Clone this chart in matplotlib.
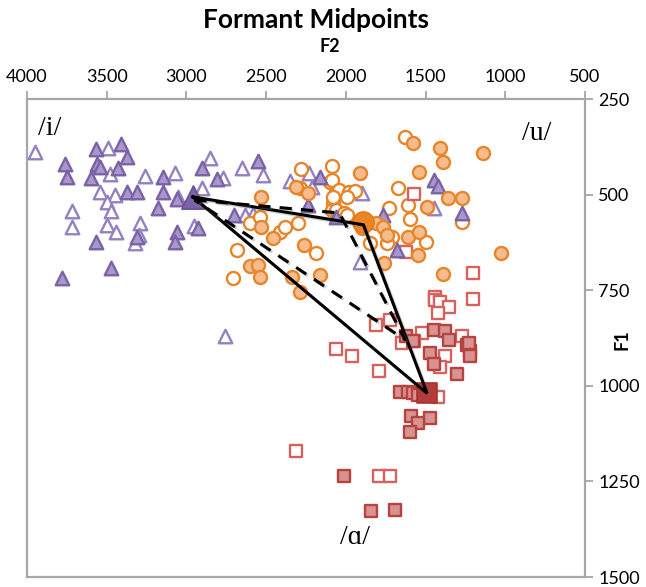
import matplotlib
matplotlib.use("Agg")
import matplotlib.pyplot as plt
import matplotlib.patheffects as pe

# ---- data (F2, F1 in Hz) ----
tri_filled_f2 = [3570, 3410, 3370, 3760, 3750, 3560, 3540, 3430, 3600, 3370, 2900, 3150, 2810, 3310, 3150, 3060, 3180, 3310, 3060, 3070, 2930, 3570, 3470, 3780, 2700, 2550, 2160, 2240, 1770, 1680, 1450, 1420, 1270, 2060]
tri_filled_f1 = [381, 367, 401, 420, 454, 420, 427, 430, 456, 493, 430, 454, 459, 493, 493, 511, 534, 610, 597, 623, 587, 623, 691, 717, 553, 411, 454, 527, 553, 644, 461, 477, 548, 558]

tri_open_f2 = [3950, 3490, 3480, 3540, 3450, 3500, 3470, 3720, 3720, 3500, 3440, 2850, 3260, 3070, 2770, 2900, 3050, 3290, 3300, 3320, 2950, 2650, 2520, 2350, 2230, 2210, 2630, 2580, 1900, 1450, 1910, 2760]
tri_open_f1 = [388, 378, 446, 493, 501, 519, 542, 542, 584, 579, 597, 404, 451, 443, 456, 482, 506, 574, 605, 626, 581, 430, 448, 464, 443, 480, 553, 550, 495, 534, 675, 869]

circ_filled_f2 = [2530, 2310, 2240, 2530, 2460, 2260, 2600, 2550, 2540, 2340, 2160, 2290, 1580, 1910, 1540, 1490, 1810, 1770, 1740, 1610, 1540, 1760, 1410, 1390, 1140, 1360, 1270, 1030, 1390, 1550]
circ_filled_f1 = [506, 480, 495, 584, 613, 631, 688, 683, 715, 715, 709, 756, 365, 443, 441, 532, 574, 584, 605, 610, 597, 678, 378, 414, 391, 508, 508, 652, 707, 657]

circ_open_f2 = [2280, 2090, 2100, 2290, 2060, 2080, 2090, 2600, 2540, 2410, 2380, 2300, 2190, 2680, 2710, 1630, 2090, 1670, 2040, 1980, 1940, 2080, 1990, 1610, 2060, 2010, 1990, 1730, 1600, 1710, 1500, 1850, 1740, 1900, 1270]
circ_open_f1 = [433, 425, 467, 482, 493, 521, 540, 574, 558, 597, 584, 574, 652, 644, 717, 349, 461, 482, 488, 493, 490, 506, 506, 527, 540, 548, 553, 534, 563, 610, 623, 626, 626, 587, 571]

sq_filled_f2 = [1450, 1380, 1350, 1620, 1580, 1240, 1220, 1220, 1470, 1450, 1300, 1660, 1610, 1580, 1550, 1590, 1470, 1550, 1600, 2010, 1840, 1690, 1230]
sq_filled_f1 = [853, 858, 879, 871, 884, 892, 910, 923, 913, 944, 968, 1017, 1017, 1020, 1023, 1080, 1085, 1098, 1122, 1237, 1328, 1325, 887]

sq_open_f2 = [1570, 1620, 1200, 1200, 1440, 1440, 1410, 1350, 1420, 1810, 1720, 1520, 1650, 1570, 1270, 1380, 1410, 2060, 1960, 1790, 1420, 2310, 1790, 1720]
sq_open_f1 = [498, 649, 704, 772, 767, 775, 782, 795, 809, 842, 827, 863, 887, 884, 871, 921, 952, 905, 921, 960, 1028, 1171, 1237, 1237]

mean_f2 = [2960, 1890, 1490]
mean_f1 = [506, 571, 1020]

solid_f2 = [2960, 1890, 1490]
solid_f1 = [506, 579, 1020]
dashed_f2 = [2950, 2040, 1630]
dashed_f1 = [514, 548, 879]

vowel_labels = ["/i/", "/u/", "/\u0251/"]
label_f2 = [3856, 802, 1940]
label_f1 = [326, 339, 1396]

x_ticks = [4000, 3500, 3000, 2500, 2000, 1500, 1000, 500]
y_ticks = [250, 500, 750, 1000, 1250, 1500]

# ---- colours ----
PURPLE_E = "#7B62A6"
PURPLE_F = "#A996CB"
PURPLE_O = "#9580C0"
ORANGE_E = "#E8852A"
ORANGE_F = "#F5BD8E"
RED_E = "#C0504D"
RED_F = "#D89290"
RED_O = "#D6625E"
GRID = "#A6A6A6"

fig = plt.figure(figsize=(6.46, 5.87), dpi=100)
W, H = 646, 587
ax = fig.add_axes([27 / W, 1 - 577 / H, (585 - 27) / W, (577 - 99) / H])

lw = 1.7
ax.scatter(tri_open_f2, tri_open_f1, marker="^", s=95, facecolor="white", edgecolor=PURPLE_O, linewidth=lw, zorder=3)
ax.scatter(circ_open_f2, circ_open_f1, marker="o", s=88, facecolor="white", edgecolor=ORANGE_E, linewidth=lw, zorder=3)
ax.scatter(sq_open_f2, sq_open_f1, marker="s", s=75, facecolor="white", edgecolor=RED_O, linewidth=lw, zorder=3)
ax.scatter(tri_filled_f2, tri_filled_f1, marker="^", s=95, facecolor=PURPLE_F, edgecolor=PURPLE_E, linewidth=lw, zorder=4)
ax.scatter(circ_filled_f2, circ_filled_f1, marker="o", s=88, facecolor=ORANGE_F, edgecolor=ORANGE_E, linewidth=lw, zorder=4)
ax.scatter(sq_filled_f2, sq_filled_f1, marker="s", s=75, facecolor=RED_F, edgecolor="#B5433F", linewidth=lw, zorder=4)

shadow = [pe.SimpleLineShadow(offset=(1.2, -1.2), shadow_color="#777777", alpha=0.35), pe.Normal()]
ax.plot(solid_f2 + solid_f2[:1], solid_f1 + solid_f1[:1], color="black", lw=2.2, zorder=6,
        solid_joinstyle="miter", path_effects=shadow)
ax.plot(dashed_f2 + dashed_f2[:1], dashed_f1 + dashed_f1[:1], color="black", lw=2.2, ls=(0, (4, 3)), zorder=6,
        path_effects=shadow)

ax.scatter(mean_f2[:1], mean_f1[:1], marker="^", s=280, facecolor="#7C62A8", edgecolor="#6A5196", linewidth=1.2, zorder=5)
ax.scatter(mean_f2[1:2], mean_f1[1:2], marker="o", s=230, facecolor="#EE8422", edgecolor="#E07A1C", linewidth=1.2, zorder=5)
ax.scatter(mean_f2[2:], mean_f1[2:], marker="s", s=220, facecolor="#B43C38", edgecolor="#A8332F", linewidth=1.2, zorder=5)

for t, fx, fy in zip(vowel_labels, label_f2, label_f1):
    ax.text(fx, fy, t, fontsize=20, family=["Liberation Serif", "DejaVu Serif"],
            ha="center", va="center", zorder=7)

ax.set_xlim(4000, 500)
ax.set_ylim(1500, 250)
ax.set_xticks(x_ticks)
ax.set_yticks(y_ticks)
ax.xaxis.tick_top()
ax.yaxis.tick_right()
ax.tick_params(axis="both", colors=GRID, labelcolor="black", labelsize=13, length=6, width=1.3, direction="out")
ax.tick_params(axis="x", pad=4)
for lab in ax.get_xticklabels() + ax.get_yticklabels():
    lab.set_family("Lato")
for s in ax.spines.values():
    s.set_color(GRID)
    s.set_linewidth(1.6)

fig.text(316 / W, 1 - 20 / H, "Formant Midpoints", ha="center", va="center", fontsize=19, fontweight="bold", family="Lato")
fig.text(330 / W, 1 - 46 / H, "F2", ha="center", va="center", fontsize=13, fontweight="bold", family="Lato")
fig.text(622 / W, 1 - 340 / H, "F1", ha="center", va="center", fontsize=13, fontweight="bold", family="Lato", rotation=90)

fig.savefig("out.png", dpi=100)
